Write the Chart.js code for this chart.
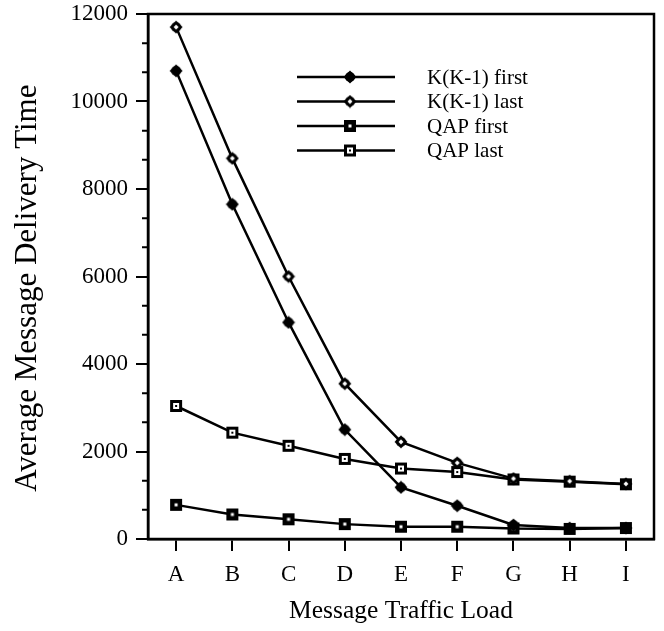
<!DOCTYPE html>
<html>
<head>
<meta charset="utf-8">
<script src="https://cdn.jsdelivr.net/npm/chart.js@4.4.1/dist/chart.umd.min.js"></script>
<style>
  html, body { margin: 0; padding: 0; background: #fff; }
  #wrap { width: 664px; height: 631px; }
</style>
</head>
<body>
<div id="wrap"><canvas id="deliveryChart" width="664" height="631"></canvas></div>
<script>
// traffic load levels and delivery times per strategy
const loads = ['A', 'B', 'C', 'D', 'E', 'F', 'G', 'H', 'I'];
const kFirst = [10700, 7650, 4950, 2500, 1180, 760, 320, 250, 250];
const kLast = [11700, 8700, 6000, 3550, 2220, 1740, 1380, 1320, 1260];
const qapFirst = [780, 560, 450, 340, 280, 280, 240, 230, 250];
const qapLast = [3040, 2430, 2130, 1830, 1610, 1530, 1360, 1310, 1250];
const seriesNames = ['K(K-1) first', 'K(K-1) last', 'QAP first', 'QAP last'];
const yMax = 12000;
const yStep = 2000;

const serif = '"Liberation Serif", "Times New Roman", serif';

// little canvases used as point markers
function marker(draw) {
    const c = document.createElement('canvas');
    c.width = 14;
    c.height = 14;
    const g = c.getContext('2d');
    g.fillStyle = '#000';
    draw(g);
    return c;
}
function diamond(g, h) {
    g.beginPath();
    g.moveTo(7, 7 - h);
    g.lineTo(7 + h, 7);
    g.lineTo(7, 7 + h);
    g.lineTo(7 - h, 7);
    g.closePath();
    g.fill();
}
const diamondFilled = marker(g => {
    diamond(g, 6.5);
    g.beginPath(); g.arc(7, 7, 5, 0, Math.PI * 2); g.fill();
});
const diamondOpen = marker(g => {
    diamond(g, 6.5);
    g.beginPath(); g.arc(7, 7, 5, 0, Math.PI * 2); g.fill();
    g.fillStyle = '#fff';
    diamond(g, 2.5);
});
const squareFilled = marker(g => {
    g.fillRect(1, 1, 12, 12);
    g.fillStyle = '#fff';
    g.fillRect(5.5, 5.5, 3, 3);
});
const squareDot = marker(g => {
    g.fillRect(1, 1, 12, 12);
    g.fillStyle = '#fff';
    g.fillRect(4, 4, 6, 6);
    g.fillStyle = '#000';
    g.fillRect(6, 6, 2, 2);
});

function series(label, data, style) {
    return {
        label: label,
        data: data,
        borderColor: '#000',
        borderWidth: 2.5,
        tension: 0,
        pointStyle: style,
        pointRadius: 6,
        clip: false
    };
}

// box round the plot plus the short minor ticks on the value axis
const plotFrame = {
    id: 'plotFrame',
    afterDraw(chart) {
        const { ctx, chartArea } = chart;
        const y = chart.scales.y;
        ctx.save();
        ctx.strokeStyle = '#000';
        ctx.lineWidth = 2.5;
        ctx.strokeRect(chartArea.left, chartArea.top, chartArea.right - chartArea.left, chartArea.bottom - chartArea.top);
        ctx.beginPath();
        for (let v = 0; v <= yMax; v += yStep / 3) {
            if (Math.round(v) % yStep === 0) continue;
            const py = y.getPixelForValue(v);
            ctx.moveTo(chartArea.left - 6, py);
            ctx.lineTo(chartArea.left, py);
        }
        ctx.lineWidth = 2;
        ctx.stroke();
        ctx.restore();
    }
};

// legend with a line through each marker, inside the plot
const lineLegend = {
    id: 'lineLegend',
    afterDraw(chart) {
        const ctx = chart.ctx;
        chart.data.datasets.forEach((ds, i) => {
            const y = 77 + i * 24.5;
            ctx.save();
            ctx.strokeStyle = ds.borderColor;
            ctx.lineWidth = ds.borderWidth;
            ctx.beginPath();
            ctx.moveTo(297, y);
            ctx.lineTo(395, y);
            ctx.stroke();
            const img = ds.pointStyle;
            ctx.drawImage(img, 350 - img.width / 2, y - img.height / 2);
            ctx.fillStyle = '#000';
            ctx.font = '21px ' + serif;
            ctx.textBaseline = 'middle';
            ctx.fillText(ds.label, 427, y + 1);
            ctx.restore();
        });
    }
};

const ctx = document.getElementById('deliveryChart').getContext('2d');
const deliveryChart = new Chart(ctx, {
    type: 'line',
    data: {
        labels: loads,
        datasets: [
            series(seriesNames[0], kFirst, diamondFilled),
            series(seriesNames[1], kLast, diamondOpen),
            series(seriesNames[2], qapFirst, squareFilled),
            series(seriesNames[3], qapLast, squareDot)
        ]
    },
    options: {
        responsive: false,
        animation: false,
        devicePixelRatio: 1,
        layout: {
            padding: { left: 0, right: 10, top: 14, bottom: 0 }
        },
        scales: {
            x: {
                offset: true,
                afterFit(scale) { scale.height = 92; },
                grid: {
                    drawOnChartArea: false,
                    color: '#000',
                    tickLength: 12,
                    lineWidth: 2
                },
                border: { display: true, color: '#000', width: 2.5 },
                ticks: {
                    color: '#000',
                    padding: 10,
                    font: { family: serif, size: 23 }
                },
                title: {
                    display: true,
                    text: 'Message Traffic Load',
                    color: '#000',
                    font: { family: serif, size: 25.5 },
                    padding: { top: 0, bottom: 4 }
                }
            },
            y: {
                min: 0,
                max: yMax,
                afterFit(scale) {
                    scale.width = 148;
                    scale.paddingTop = 0;
                    scale.paddingBottom = 0;
                },
                grid: {
                    drawOnChartArea: false,
                    color: '#000',
                    tickLength: 12,
                    lineWidth: 2
                },
                border: { display: true, color: '#000', width: 2.5 },
                ticks: {
                    stepSize: yStep,
                    color: '#000',
                    padding: 8,
                    font: { family: serif, size: 23 },
                    callback: v => String(v)
                },
                title: {
                    display: true,
                    text: 'Average Message Delivery Time\u00a0\u00a0\u00a0',
                    color: '#000',
                    font: { family: serif, size: 31 },
                    padding: { top: 9, bottom: 0 }
                }
            }
        },
        plugins: {
            legend: { display: false },
            tooltip: { enabled: false }
        }
    },
    plugins: [plotFrame, lineLegend]
});
</script>
</body>
</html>
